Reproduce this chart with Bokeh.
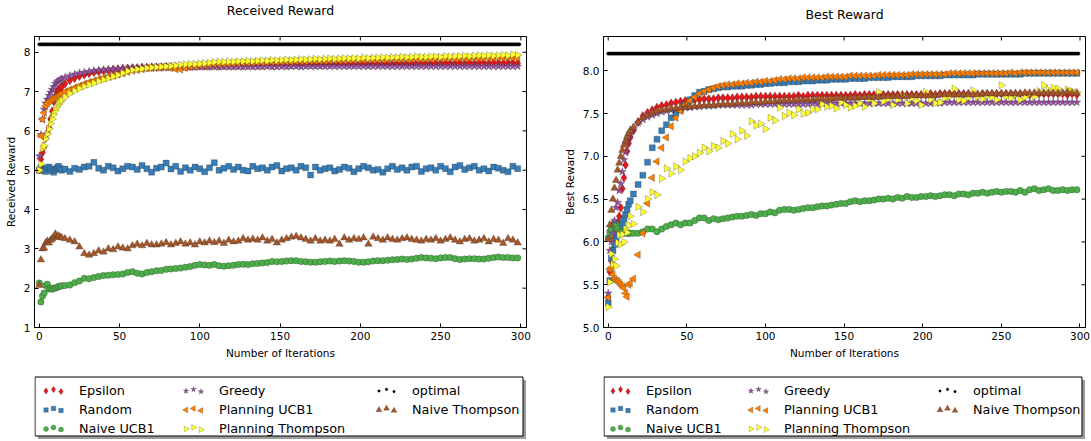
import math
from bokeh.plotting import figure
from bokeh.layouts import row, column
from bokeh.models import Range1d, FixedTicker, PrintfTickFormatter
from bokeh.embed import file_html
from bokeh.resources import INLINE
from bokeh.core.properties import value

# ---------------- data ----------------
ITER = list(range(0, 15)) + list(range(16, 300, 3))   # iteration numbers of the drawn points
OPT_ITER = list(range(0, 300))
OPTIMAL = 8.2

X_TICKS = [0, 50, 100, 150, 200, 250, 300]
LEFT_Y_TICKS = [1, 2, 3, 4, 5, 6, 7, 8]
RIGHT_Y_TICKS = [5.0, 5.5, 6.0, 6.5, 7.0, 7.5, 8.0]

NAMES = ["Epsilon", "Random", "Naive UCB1", "Greedy", "Planning UCB1",
         "Planning Thompson", "optimal", "Naive Thompson"]

# ---- Received Reward ----
L_EPSILON = [5.02, 5.28, 5.45, 5.59, 5.82, 5.95, 6.08, 6.30, 6.50, 6.75, 6.88, 7.00, 7.04, 7.08, 7.13,
             7.20, 7.28, 7.34, 7.39, 7.43, 7.46, 7.49, 7.51, 7.53, 7.54,
             7.56, 7.57, 7.58, 7.59, 7.60, 7.60, 7.61, 7.61, 7.62, 7.62,
             7.62, 7.63, 7.63, 7.63, 7.64, 7.64, 7.64, 7.65, 7.65, 7.65,
             7.65, 7.66, 7.65, 7.66, 7.66, 7.66, 7.67, 7.66, 7.67, 7.67,
             7.67, 7.67, 7.68, 7.67, 7.68, 7.68, 7.68, 7.68, 7.69, 7.68,
             7.69, 7.69, 7.69, 7.69, 7.70, 7.69, 7.70, 7.70, 7.70, 7.70,
             7.70, 7.70, 7.71, 7.70, 7.71, 7.71, 7.71, 7.71, 7.71, 7.71,
             7.71, 7.72, 7.71, 7.72, 7.72, 7.72, 7.72, 7.72, 7.72, 7.72,
             7.72, 7.72, 7.73, 7.72, 7.73, 7.72, 7.73, 7.73, 7.72, 7.73,
             7.73, 7.72, 7.73, 7.73, 7.72]
L_RANDOM = [5.00, 5.06, 5.02, 5.00, 4.97, 5.05, 5.08, 5.03, 4.98, 4.95, 5.02, 5.06, 5.10, 5.04, 5.00,
            5.03, 4.97, 5.05, 5.02, 5.08, 5.10, 5.20, 5.05, 5.00, 5.10,
            5.06, 4.98, 5.04, 5.10, 5.08, 5.02, 5.12, 5.04, 4.95, 5.05,
            5.08, 5.18, 5.03, 5.10, 4.97, 5.06, 5.00, 5.08, 5.04, 4.96,
            5.06, 5.19, 5.00, 5.05, 5.10, 5.02, 5.08, 5.00, 4.98, 5.10,
            5.04, 5.06, 5.00, 5.08, 5.12, 4.98, 5.04, 5.06, 5.00, 5.10,
            5.06, 4.88, 5.08, 5.00, 5.04, 5.06, 4.98, 5.02, 5.08, 5.05,
            4.96, 5.04, 5.10, 5.06, 5.00, 5.02, 4.95, 5.04, 5.10, 5.02,
            5.06, 5.00, 5.08, 5.10, 4.97, 5.04, 5.06, 5.00, 5.10, 5.04,
            4.96, 5.08, 5.12, 5.02, 5.06, 5.10, 5.00, 5.04, 4.98, 5.08,
            5.05, 5.00, 4.96, 5.10, 5.04]
L_NAIVE_UCB = [2.13, 1.65, 1.80, 1.88, 2.07, 2.10, 1.98, 2.00, 1.97, 2.00, 2.00, 2.02, 2.04, 2.05, 2.06,
               2.07, 2.08, 2.14, 2.18, 2.25, 2.24, 2.27, 2.30, 2.32, 2.33,
               2.34, 2.35, 2.36, 2.40, 2.42, 2.38, 2.36, 2.40, 2.42, 2.44,
               2.45, 2.48, 2.49, 2.50, 2.51, 2.53, 2.55, 2.58, 2.60, 2.59,
               2.58, 2.60, 2.57, 2.56, 2.57, 2.58, 2.60, 2.61, 2.60, 2.62,
               2.63, 2.64, 2.65, 2.68, 2.67, 2.68, 2.69, 2.70, 2.70, 2.68,
               2.67, 2.66, 2.66, 2.67, 2.68, 2.69, 2.68, 2.69, 2.70, 2.69,
               2.68, 2.66, 2.66, 2.67, 2.69, 2.70, 2.70, 2.71, 2.72, 2.73,
               2.74, 2.73, 2.74, 2.76, 2.78, 2.77, 2.76, 2.75, 2.77, 2.78,
               2.78, 2.75, 2.73, 2.74, 2.75, 2.75, 2.74, 2.74, 2.76, 2.78,
               2.79, 2.78, 2.78, 2.77, 2.77]
L_GREEDY = [5.36, 5.90, 6.30, 6.55, 6.70, 6.80, 6.90, 6.98, 7.05, 7.12, 7.20, 7.24, 7.27, 7.30, 7.32,
            7.36, 7.40, 7.44, 7.47, 7.49, 7.51, 7.53, 7.54, 7.55, 7.56,
            7.57, 7.58, 7.58, 7.59, 7.60, 7.60, 7.61, 7.61, 7.61, 7.62,
            7.62, 7.62, 7.62, 7.62, 7.62, 7.62, 7.63, 7.62, 7.63, 7.63,
            7.63, 7.63, 7.63, 7.63, 7.63, 7.63, 7.63, 7.63, 7.63, 7.63,
            7.63, 7.63, 7.64, 7.63, 7.63, 7.64, 7.63, 7.64, 7.64, 7.63,
            7.64, 7.64, 7.64, 7.64, 7.64, 7.64, 7.64, 7.64, 7.64, 7.64,
            7.64, 7.64, 7.64, 7.64, 7.64, 7.64, 7.64, 7.64, 7.64, 7.64,
            7.64, 7.64, 7.64, 7.64, 7.64, 7.64, 7.64, 7.64, 7.64, 7.64,
            7.64, 7.64, 7.64, 7.64, 7.64, 7.64, 7.64, 7.64, 7.64, 7.64,
            7.64, 7.64, 7.64, 7.64, 7.64]
L_PLAN_UCB = [5.00, 5.87, 6.29, 6.46, 6.63, 6.70, 6.75, 6.78, 6.80, 6.83, 6.86, 6.88, 6.90, 6.93, 6.96,
              7.00, 7.05, 7.10, 7.15, 7.20, 7.24, 7.28, 7.32, 7.35, 7.38,
              7.40, 7.43, 7.46, 7.50, 7.53, 7.55, 7.57, 7.59, 7.60, 7.61,
              7.62, 7.62, 7.60, 7.57, 7.56, 7.60, 7.63, 7.65, 7.67, 7.68,
              7.69, 7.70, 7.70, 7.71, 7.71, 7.72, 7.72, 7.73, 7.73, 7.74,
              7.74, 7.74, 7.75, 7.75, 7.75, 7.76, 7.76, 7.76, 7.77, 7.77,
              7.77, 7.78, 7.78, 7.78, 7.78, 7.79, 7.79, 7.79, 7.79, 7.80,
              7.80, 7.80, 7.80, 7.81, 7.81, 7.81, 7.81, 7.82, 7.82, 7.82,
              7.82, 7.82, 7.83, 7.83, 7.83, 7.83, 7.83, 7.84, 7.84, 7.84,
              7.84, 7.84, 7.85, 7.85, 7.85, 7.85, 7.85, 7.85, 7.86, 7.86,
              7.86, 7.86, 7.86, 7.86, 7.86]
L_PLAN_TS = [5.00, 5.15, 5.55, 5.62, 5.80, 5.92, 6.05, 6.18, 6.30, 6.42, 6.52, 6.60, 6.67, 6.73, 6.78,
             6.86, 6.95, 7.02, 7.08, 7.13, 7.18, 7.22, 7.26, 7.30, 7.34,
             7.38, 7.42, 7.47, 7.52, 7.55, 7.57, 7.58, 7.60, 7.61, 7.62,
             7.63, 7.64, 7.65, 7.66, 7.68, 7.69, 7.70, 7.70, 7.71, 7.72,
             7.73, 7.75, 7.76, 7.75, 7.76, 7.76, 7.77, 7.77, 7.78, 7.77,
             7.78, 7.79, 7.78, 7.80, 7.79, 7.80, 7.81, 7.80, 7.81, 7.82,
             7.81, 7.82, 7.83, 7.82, 7.83, 7.84, 7.83, 7.84, 7.85, 7.84,
             7.85, 7.84, 7.86, 7.85, 7.86, 7.86, 7.87, 7.86, 7.87, 7.87,
             7.88, 7.87, 7.88, 7.89, 7.88, 7.88, 7.89, 7.89, 7.88, 7.90,
             7.89, 7.90, 7.90, 7.91, 7.90, 7.91, 7.92, 7.91, 7.92, 7.91,
             7.92, 7.93, 7.92, 7.94, 7.93]
L_NAIVE_TS = [2.07, 2.72, 3.00, 3.02, 3.15, 3.20, 3.15, 3.22, 3.25, 3.30, 3.38, 3.30, 3.33, 3.30, 3.28,
              3.26, 3.22, 3.18, 3.05, 2.88, 2.84, 2.88, 2.95, 2.92, 3.00,
              2.98, 3.05, 3.02, 3.00, 3.08, 3.12, 3.08, 3.14, 3.10, 3.10,
              3.12, 3.16, 3.10, 3.14, 3.18, 3.12, 3.15, 3.10, 3.18, 3.15,
              3.20, 3.16, 3.20, 3.14, 3.22, 3.18, 3.20, 3.26, 3.22, 3.25,
              3.22, 3.28, 3.20, 3.24, 3.15, 3.22, 3.26, 3.30, 3.32, 3.28,
              3.24, 3.20, 3.26, 3.20, 3.22, 3.20, 3.24, 3.12, 3.28, 3.22,
              3.26, 3.24, 3.28, 3.12, 3.30, 3.26, 3.22, 3.28, 3.24, 3.22,
              3.26, 3.28, 3.24, 3.22, 3.20, 3.24, 3.22, 3.26, 3.20, 3.24,
              3.28, 3.22, 3.18, 3.24, 3.26, 3.20, 3.22, 3.26, 3.18, 3.24,
              3.22, 3.14, 3.26, 3.22, 3.15]

# ---- Best Reward ----
R_EPSILON = [5.35, 5.65, 5.78, 5.90, 6.05, 6.15, 6.22, 6.30, 6.40, 6.62, 6.75, 6.90, 7.06, 7.15, 7.22,
             7.30, 7.40, 7.47, 7.51, 7.54, 7.57, 7.59, 7.60, 7.62, 7.63,
             7.64, 7.65, 7.65, 7.66, 7.66, 7.67, 7.67, 7.67, 7.68, 7.68,
             7.68, 7.68, 7.69, 7.69, 7.69, 7.69, 7.70, 7.70, 7.70, 7.70,
             7.70, 7.70, 7.70, 7.70, 7.70, 7.71, 7.70, 7.71, 7.71, 7.71,
             7.71, 7.71, 7.71, 7.71, 7.71, 7.71, 7.71, 7.72, 7.71, 7.72,
             7.72, 7.72, 7.72, 7.72, 7.72, 7.72, 7.72, 7.72, 7.72, 7.72,
             7.72, 7.72, 7.72, 7.73, 7.72, 7.73, 7.73, 7.73, 7.73, 7.73,
             7.73, 7.73, 7.73, 7.72, 7.73, 7.73, 7.73, 7.73, 7.73, 7.73,
             7.73, 7.73, 7.73, 7.73, 7.72, 7.73, 7.73, 7.73, 7.73, 7.73,
             7.73, 7.73, 7.72, 7.73, 7.72]
R_RANDOM = [5.29, 5.55, 5.81, 5.90, 5.97, 6.05, 6.09, 6.15, 6.18, 6.22, 6.27, 6.32, 6.38, 6.44, 6.48,
            6.56, 6.67, 6.78, 6.93, 7.10, 7.20, 7.30, 7.37, 7.45, 7.50,
            7.54, 7.60, 7.66, 7.71, 7.75, 7.76, 7.78, 7.79, 7.80, 7.81,
            7.81, 7.82, 7.82, 7.82, 7.83, 7.83, 7.84, 7.84, 7.85, 7.85,
            7.86, 7.86, 7.86, 7.87, 7.87, 7.87, 7.88, 7.88, 7.88, 7.89,
            7.89, 7.89, 7.90, 7.90, 7.90, 7.90, 7.91, 7.91, 7.91, 7.91,
            7.92, 7.92, 7.92, 7.92, 7.92, 7.93, 7.93, 7.93, 7.93, 7.93,
            7.94, 7.94, 7.94, 7.94, 7.94, 7.94, 7.95, 7.95, 7.95, 7.95,
            7.95, 7.95, 7.95, 7.96, 7.96, 7.96, 7.96, 7.96, 7.96, 7.96,
            7.96, 7.96, 7.96, 7.97, 7.97, 7.97, 7.97, 7.97, 7.97, 7.97,
            7.97, 7.97, 7.97, 7.97, 7.97]
R_NAIVE_UCB = [6.05, 6.12, 6.15, 6.20, 6.22, 6.20, 6.15, 6.12, 6.10, 6.12, 6.10, 6.12, 6.10, 6.10, 6.10,
               6.10, 6.10, 6.12, 6.15, 6.15, 6.12, 6.15, 6.18, 6.20, 6.22,
               6.20, 6.22, 6.22, 6.25, 6.28, 6.28, 6.25, 6.27, 6.26, 6.27,
               6.28, 6.29, 6.30, 6.30, 6.31, 6.32, 6.31, 6.33, 6.33, 6.35,
               6.34, 6.37, 6.38, 6.38, 6.37, 6.38, 6.39, 6.40, 6.40, 6.41,
               6.42, 6.42, 6.43, 6.44, 6.45, 6.45, 6.47, 6.48, 6.47, 6.48,
               6.48, 6.49, 6.50, 6.50, 6.51, 6.50, 6.52, 6.51, 6.53, 6.52,
               6.52, 6.53, 6.53, 6.54, 6.53, 6.54, 6.55, 6.55, 6.54, 6.56,
               6.56, 6.55, 6.57, 6.57, 6.58, 6.57, 6.58, 6.59, 6.58, 6.59,
               6.59, 6.58, 6.60, 6.58, 6.61, 6.62, 6.60, 6.61, 6.62, 6.60,
               6.60, 6.61, 6.60, 6.61, 6.61]
R_GREEDY = [5.40, 5.90, 6.00, 6.10, 6.25, 6.40, 6.46, 6.60, 6.68, 6.82, 6.96, 7.05, 7.16, 7.22, 7.27,
            7.33, 7.39, 7.43, 7.46, 7.48, 7.50, 7.52, 7.53, 7.54, 7.55,
            7.56, 7.57, 7.57, 7.58, 7.58, 7.59, 7.59, 7.59, 7.60, 7.60,
            7.60, 7.60, 7.60, 7.60, 7.60, 7.60, 7.61, 7.61, 7.61, 7.61,
            7.61, 7.61, 7.61, 7.61, 7.61, 7.61, 7.61, 7.61, 7.62, 7.61,
            7.62, 7.62, 7.62, 7.62, 7.62, 7.62, 7.62, 7.62, 7.62, 7.62,
            7.62, 7.62, 7.62, 7.62, 7.62, 7.62, 7.62, 7.62, 7.62, 7.62,
            7.62, 7.62, 7.62, 7.62, 7.63, 7.62, 7.63, 7.63, 7.63, 7.63,
            7.63, 7.63, 7.63, 7.63, 7.63, 7.63, 7.63, 7.63, 7.63, 7.63,
            7.63, 7.63, 7.63, 7.63, 7.63, 7.63, 7.63, 7.63, 7.63, 7.63,
            7.63, 7.63, 7.63, 7.63, 7.63]
R_PLAN_UCB = [5.35, 5.68, 5.70, 5.62, 5.57, 5.55, 5.54, 5.52, 5.50, 5.48, 5.46, 5.40, 5.36, 5.50, 5.52,
              5.57, 5.85, 6.10, 6.45, 6.75, 6.94, 7.10, 7.22, 7.35, 7.45,
              7.53, 7.60, 7.65, 7.69, 7.73, 7.76, 7.78, 7.80, 7.82, 7.83,
              7.84, 7.84, 7.85, 7.85, 7.86, 7.86, 7.87, 7.87, 7.88, 7.88,
              7.89, 7.90, 7.90, 7.91, 7.91, 7.91, 7.92, 7.92, 7.92, 7.92,
              7.92, 7.93, 7.93, 7.93, 7.93, 7.93, 7.94, 7.94, 7.94, 7.94,
              7.94, 7.94, 7.95, 7.95, 7.95, 7.95, 7.95, 7.95, 7.95, 7.96,
              7.96, 7.96, 7.96, 7.96, 7.96, 7.96, 7.96, 7.97, 7.97, 7.97,
              7.97, 7.97, 7.97, 7.97, 7.97, 7.97, 7.97, 7.97, 7.97, 7.97,
              7.98, 7.97, 7.98, 7.98, 7.98, 7.98, 7.98, 7.98, 7.98, 7.98,
              7.98, 7.98, 7.98, 7.98, 7.98]
R_PLAN_TS = [5.24, 5.53, 5.86, 5.74, 5.80, 5.72, 5.99, 6.08, 5.97, 6.09, 6.00, 6.15, 6.11, 6.20, 6.30,
             6.21, 6.41, 6.35, 6.50, 6.58, 6.55, 6.74, 6.86, 6.80, 6.88,
             6.84, 6.94, 6.98, 7.00, 7.04, 7.10, 7.06, 7.12, 7.10, 7.18,
             7.15, 7.26, 7.20, 7.30, 7.24, 7.41, 7.36, 7.38, 7.32, 7.45,
             7.42, 7.57, 7.47, 7.51, 7.48, 7.55, 7.50, 7.51, 7.55, 7.55,
             7.61, 7.58, 7.59, 7.56, 7.63, 7.60, 7.57, 7.59, 7.62, 7.58,
             7.67, 7.62, 7.75, 7.64, 7.67, 7.60, 7.66, 7.71, 7.62, 7.68,
             7.65, 7.60, 7.75, 7.66, 7.62, 7.63, 7.68, 7.70, 7.79, 7.66,
             7.65, 7.69, 7.77, 7.70, 7.67, 7.71, 7.69, 7.66, 7.83, 7.70,
             7.68, 7.72, 7.66, 7.69, 7.73, 7.70, 7.76, 7.83, 7.78, 7.80,
             7.79, 7.74, 7.78, 7.76, 7.75]
R_NAIVE_TS = [6.03, 6.20, 6.37, 6.50, 6.63, 6.72, 6.84, 6.92, 7.00, 7.07, 7.13, 7.18, 7.23, 7.27, 7.30,
              7.34, 7.40, 7.45, 7.48, 7.51, 7.53, 7.54, 7.55, 7.56, 7.56,
              7.57, 7.57, 7.58, 7.58, 7.59, 7.59, 7.60, 7.60, 7.60, 7.61,
              7.61, 7.61, 7.62, 7.62, 7.62, 7.63, 7.63, 7.63, 7.64, 7.64,
              7.64, 7.65, 7.65, 7.65, 7.65, 7.66, 7.66, 7.66, 7.66, 7.67,
              7.67, 7.67, 7.67, 7.68, 7.68, 7.68, 7.68, 7.68, 7.69, 7.69,
              7.69, 7.69, 7.69, 7.70, 7.70, 7.70, 7.70, 7.70, 7.70, 7.71,
              7.71, 7.71, 7.71, 7.71, 7.71, 7.72, 7.72, 7.72, 7.72, 7.72,
              7.72, 7.72, 7.72, 7.72, 7.73, 7.73, 7.73, 7.73, 7.73, 7.73,
              7.73, 7.73, 7.73, 7.74, 7.74, 7.74, 7.74, 7.74, 7.74, 7.74,
              7.74, 7.74, 7.75, 7.74, 7.74]

LEFT_DATA = [L_EPSILON, L_RANDOM, L_NAIVE_UCB, L_GREEDY, L_PLAN_UCB, L_PLAN_TS, None, L_NAIVE_TS]
RIGHT_DATA = [R_EPSILON, R_RANDOM, R_NAIVE_UCB, R_GREEDY, R_PLAN_UCB, R_PLAN_TS, None, R_NAIVE_TS]
for arr in LEFT_DATA + RIGHT_DATA:
    if arr is not None:
        assert len(arr) == len(ITER), len(arr)

# ---------------- styles ----------------
STYLE = {
    "Epsilon":           dict(color="#e41a1c", marker="diamond",  angle=0.0,          size=9.0, lsize=6.5),
    "Random":            dict(color="#377eb8", marker="square",   angle=0.0,          size=6.0, lsize=4.5),
    "Naive UCB1":        dict(color="#4daf4a", marker="circle",   angle=0.0,          size=6.5, lsize=5.0),
    "Greedy":            dict(color="#984ea3", marker="star",     angle=0.0,          size=8.5, lsize=6.0),
    "Planning UCB1":     dict(color="#ff7f00", marker="triangle", angle=math.pi / 2,  size=7.5, lsize=6.0),
    "Planning Thompson": dict(color="#ffff33", marker="triangle", angle=-math.pi / 2, size=7.5, lsize=6.0),
    "optimal":           dict(color="#000000", marker="circle",   angle=0.0,          size=3.2, lsize=2.6),
    "Naive Thompson":    dict(color="#a65628", marker="triangle", angle=0.0,          size=7.5, lsize=6.0),
}
FONT = "DejaVu Sans"
X_LO, X_HI = -3, 303.5
TICK_PX = 4
TITLE_H = 22
LEG_H = 68


def style_axis(ax, ticks, fmt=None):
    ax.ticker = FixedTicker(ticks=ticks)
    if fmt is not None:
        ax.formatter = fmt
    ax.major_tick_in = TICK_PX
    ax.major_tick_out = 0
    ax.major_tick_line_color = "black"
    ax.minor_tick_line_color = None
    ax.axis_line_color = "black"
    ax.major_label_text_font = FONT
    ax.major_label_text_color = "black"
    ax.major_label_text_font_size = "10.5px"
    ax.major_label_standoff = 4
    ax.axis_label_text_font = FONT
    ax.axis_label_text_font_size = "10.5px"
    ax.axis_label_text_font_style = "normal"
    ax.axis_label_text_color = "black"
    ax.axis_label_standoff = 4


def blank_figure(frame_w, frame_h, bl, br):
    f = figure(output_backend="svg", toolbar_location=None,
               frame_width=frame_w, frame_height=frame_h,
               x_range=Range1d(0, frame_w), y_range=Range1d(frame_h, 0),
               x_axis_type=None, y_axis_type=None,
               min_border_left=bl, min_border_right=br, min_border_top=0, min_border_bottom=0,
               background_fill_color="white", border_fill_color="white")
    f.grid.visible = False
    f.outline_line_color = None
    return f


def make_title(text, frame_w, bl, br, y_center):
    t = blank_figure(frame_w, TITLE_H, bl, br)
    t.text(x=[frame_w / 2], y=[y_center], text=[text], text_font=value(FONT),
           text_font_size="12.5px", text_align="center", text_baseline="middle",
           text_color="black")
    return t


def make_plot(data, y_lo, y_hi, y_ticks, y_fmt, ylabel, frame_w, frame_h, bl, br, bt, bb):
    p = figure(output_backend="svg", toolbar_location=None,
               frame_width=frame_w, frame_height=frame_h,
               x_range=Range1d(X_LO, X_HI), y_range=Range1d(y_lo, y_hi),
               min_border_left=bl, min_border_right=br,
               min_border_top=bt, min_border_bottom=bb,
               background_fill_color="white", border_fill_color="white")
    p.grid.visible = False
    p.outline_line_color = "black"
    p.outline_line_alpha = 1.0
    p.outline_line_width = 1

    style_axis(p.xaxis[0], X_TICKS)
    style_axis(p.yaxis[0], y_ticks, y_fmt)
    p.xaxis[0].axis_label = "Number of Iterations"
    p.yaxis[0].axis_label = ylabel

    # inward ticks on the top and right spines (matplotlib classic style)
    dy = TICK_PX * (y_hi - y_lo) / frame_h
    dx = TICK_PX * (X_HI - X_LO) / frame_w
    p.segment(x0=X_TICKS, x1=X_TICKS, y0=[y_hi] * len(X_TICKS), y1=[y_hi - dy] * len(X_TICKS),
              line_color="black", line_width=1)
    p.segment(x0=[X_HI] * len(y_ticks), x1=[X_HI - dx] * len(y_ticks), y0=y_ticks, y1=y_ticks,
              line_color="black", line_width=1)

    for name, vals in zip(NAMES, data):
        st = STYLE[name]
        if name == "optimal":
            p.scatter(x=OPT_ITER, y=[OPTIMAL] * len(OPT_ITER), marker="circle", size=st["size"],
                      fill_color="black", line_color="black", line_width=0.5)
        else:
            p.scatter(x=ITER, y=vals, marker=st["marker"], angle=st["angle"],
                      size=st["size"], fill_color=st["color"],
                      line_color="#222222", line_alpha=0.45, line_width=0.6)
    return p


def make_legend(frame_w, bl, br, text_offsets, font_size):
    lg = blank_figure(frame_w, LEG_H, bl, br)
    box_left, box_right = 0.5, frame_w - 3.5
    box_top, box_bot = 4.5, 63.5
    # shadow
    lg.quad(left=[box_left + 3], right=[box_right + 3],
            top=[box_top + 3], bottom=[box_bot + 3],
            fill_color="#4d4d4d", fill_alpha=0.55, line_color=None)
    lg.quad(left=[box_left], right=[box_right], top=[box_top], bottom=[box_bot],
            fill_color="white", line_color="black", line_width=1)
    row_y = [box_top + 13, box_top + 32, box_top + 51]
    dys = [1.0, -0.6, 1.6]
    tx, ty, tt = [], [], []
    for i, name in enumerate(NAMES):
        col, r = divmod(i, 3)
        x0 = box_left + text_offsets[col]
        y0 = row_y[r]
        st = STYLE[name]
        mx = [x0 - 33, x0 - 25.5, x0 - 18]
        my = [y0 + d for d in dys]
        lc = "black" if name == "optimal" else "#222222"
        lg.scatter(x=mx, y=my, marker=st["marker"], angle=st["angle"], size=st["lsize"],
                   fill_color=st["color"], line_color=lc, line_alpha=0.45, line_width=0.5)
        tx.append(x0)
        ty.append(y0)
        tt.append(name)
    lg.text(x=tx, y=ty, text=tt, text_font=value(FONT), text_font_size=font_size,
            text_baseline="middle", text_align="left", text_color="black")
    return lg


# left panel : frame x 34..526, right panel : frame x 603..1085, both frames y 36..327
t1 = make_title("Received Reward", 492, 34, 19, 10)
t2 = make_title("Best Reward", 482, 58, 5, 14)
p1 = make_plot(LEFT_DATA, 1, 8.4, LEFT_Y_TICKS, None, "Received Reward",
               492, 291, 34, 19, 14, 45)
p2 = make_plot(RIGHT_DATA, 5, 8.4, RIGHT_Y_TICKS, PrintfTickFormatter(format="%.1f"),
               "Best Reward", 482, 291, 58, 5, 14, 45)
lg1 = make_legend(492, 34, 19, [44, 184, 377], "12.8px")
lg2 = make_legend(482, 58, 5, [42, 180, 369], "12.8px")

layout = row(column(t1, p1, lg1), column(t2, p2, lg2))

open("out.html", "w").write(file_html(layout, INLINE))
